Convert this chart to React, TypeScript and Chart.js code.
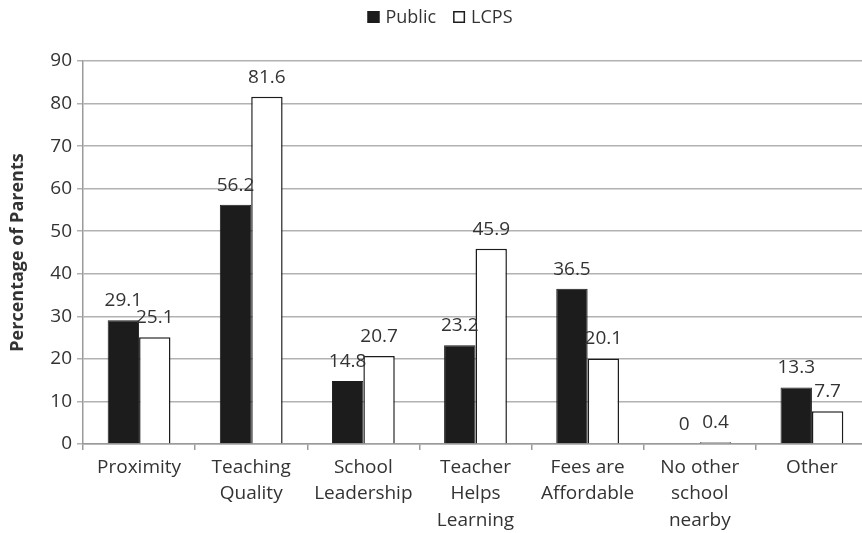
import React, { useEffect, useRef } from "react";
import { Chart, registerables } from "chart.js";

Chart.register(...registerables);

const categories: string[][] = [
  ["Proximity"],
  ["Teaching", "Quality"],
  ["School", "Leadership"],
  ["Teacher", "Helps", "Learning"],
  ["Fees are", "Affordable"],
  ["No other", "school", "nearby"],
  ["Other"],
];
const publicValues = [29.1, 56.2, 14.8, 23.2, 36.5, 0, 13.3];
const lcpsValues = [25.1, 81.6, 20.7, 45.9, 20.1, 0.4, 7.7];
const seriesNames = ["Public", "LCPS"];
const yTitle = "Percentage of Parents";

const FONT = "'Open Sans', 'Liberation Sans', sans-serif";
const TEXT = "#333333";
const DARK = "#1c1c1c";
const CANVAS_W = 870;
const CANVAS_H = 533;
const LEGEND_CENTER_X = 440;
const LEGEND_Y = 17;

const valueLabels = {
  id: "valueLabels",
  afterDatasetsDraw(chart: any) {
    const ctx = chart.ctx;
    ctx.save();
    ctx.font = `19px ${FONT}`;
    ctx.fillStyle = TEXT;
    ctx.textAlign = "center";
    ctx.textBaseline = "alphabetic";
    chart.data.datasets.forEach((ds: any, i: number) => {
      const meta = chart.getDatasetMeta(i);
      meta.data.forEach((bar: any, j: number) => {
        const v = ds.data[j];
        ctx.fillText(String(v), bar.x, bar.y - 14);
      });
    });
    ctx.restore();
  },
};

const customLegend = {
  id: "customLegend",
  afterDraw(chart: any) {
    const ctx = chart.ctx;
    ctx.save();
    ctx.font = `18px ${FONT}`;
    ctx.textBaseline = "middle";
    ctx.textAlign = "left";
    const box = 12;
    const gapText = 6;
    const gapItem = 17;
    const items = chart.data.datasets.map((ds: any) => ({
      label: ds.label,
      fill: ds.backgroundColor,
      stroke: ds.borderColor,
      w: ctx.measureText(ds.label).width,
    }));
    const total =
      items.reduce((s: number, it: any) => s + box + gapText + it.w, 0) +
      gapItem * (items.length - 1);
    let x = LEGEND_CENTER_X - total / 2;
    items.forEach((it: any) => {
      ctx.fillStyle = it.fill;
      ctx.fillRect(x, LEGEND_Y - box / 2, box, box);
      ctx.strokeStyle = it.stroke;
      ctx.lineWidth = 1.5;
      ctx.strokeRect(x + 0.75, LEGEND_Y - box / 2 + 0.75, box - 1.5, box - 1.5);
      x += box + gapText;
      ctx.fillStyle = TEXT;
      ctx.fillText(it.label, x, LEGEND_Y + 1);
      x += it.w + gapItem;
    });
    ctx.restore();
  },
};

export default function App() {
  const ref = useRef<HTMLCanvasElement>(null);
  useEffect(() => {
    if (!ref.current) return;
    const chart = new Chart(ref.current, {
      type: "bar",
      data: {
        labels: categories,
        datasets: [
          {
            label: seriesNames[0],
            data: publicValues,
            backgroundColor: DARK,
            borderColor: DARK,
            borderWidth: 1,
            categoryPercentage: 0.56,
            barPercentage: 1,
          },
          {
            label: seriesNames[1],
            data: lcpsValues,
            backgroundColor: "#ffffff",
            borderColor: DARK,
            borderWidth: 1.5,
            categoryPercentage: 0.56,
            barPercentage: 1,
          },
        ],
      },
      options: {
        animation: false,
        responsive: false,
        maintainAspectRatio: false,
        layout: { padding: { top: 61, right: 2, left: 0, bottom: 0 } },
        plugins: {
          tooltip: { enabled: false },
          legend: { display: false },
        },
        scales: {
          x: {
            grid: {
              offset: true,
              drawOnChartArea: false,
              drawTicks: true,
              tickLength: 6,
              color: "#9a9a9a",
              lineWidth: 1.5,
            },
            border: { color: "#9a9a9a", width: 1.5 },
            ticks: {
              color: TEXT,
              padding: 4,
              maxRotation: 0,
              autoSkip: false,
              font: { family: FONT, size: 19, lineHeight: 1.4 },
            },
            afterFit(scale: any) {
              scale.height = 89;
            },
          },
          y: {
            min: 0,
            max: 90,
            ticks: {
              stepSize: 10,
              color: TEXT,
              padding: 5,
              font: { family: FONT, size: 19 },
            },
            grid: { color: "#b2b2b2", lineWidth: 1.5, tickLength: 6 },
            border: { color: "#9a9a9a", width: 1.5 },
            title: {
              display: true,
              text: yTitle,
              color: TEXT,
              font: { family: FONT, size: 18, weight: "bold" },
              padding: { top: 7, bottom: 0 },
            },
            afterFit(scale: any) {
              scale.width = 83;
            },
          },
        },
      },
      plugins: [valueLabels, customLegend],
    });
    return () => chart.destroy();
  }, []);
  return (
    <div
      style={{
        position: "fixed",
        left: 0,
        top: 0,
        width: 862,
        height: 533,
        overflow: "hidden",
        background: "#fff",
      }}
    >
      <canvas
        ref={ref}
        width={CANVAS_W}
        height={CANVAS_H}
        style={{ width: CANVAS_W, height: CANVAS_H, display: "block" }}
      />
    </div>
  );
}
